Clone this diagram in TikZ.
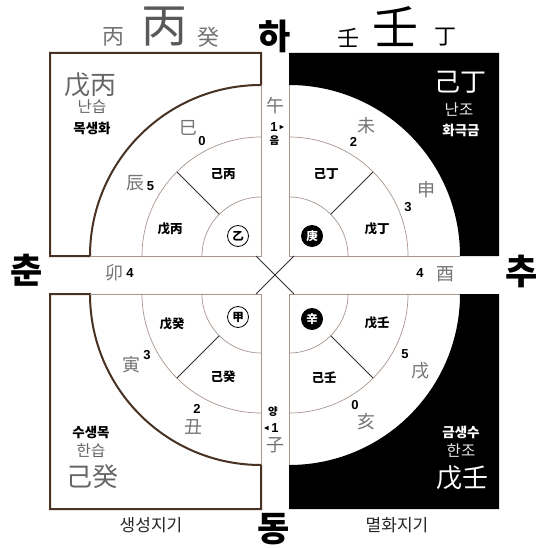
\documentclass[tikz,border=0pt]{standalone}
\usepackage{fontspec}
\setmainfont{Liberation Sans}
\newfontfamily\kr{Noto Sans CJK KR}
\usetikzlibrary{calc}
\definecolor{brownline}{RGB}{72,50,36}
\definecolor{thinc}{RGB}{168,150,142}
\definecolor{hanja}{RGB}{115,115,115}
\tikzset{
  every node/.style={inner sep=0pt, outer sep=0pt},
  thinline/.style={draw=thinc, line width=0.7pt},
  boxline/.style={draw=brownline, line width=2pt},
  spoke/.style={draw=black!80, line width=0.8pt},
  bigk/.style={font=\kr\bfseries\fontsize{35}{35}\selectfont},
  topbig/.style={font=\kr\fontsize{46}{46}\selectfont},
  topsmall/.style={font=\kr\fontsize{22}{22}\selectfont},
  ringh/.style={font=\kr\fontsize{18}{18}\selectfont, text=hanja},
  num/.style={font=\bfseries\fontsize{13}{13}\selectfont},
  midt/.style={font=\kr\bfseries\fontsize{12.5}{12.5}\selectfont},
  boxbig/.style={font=\kr\fontsize{26}{26}\selectfont},
  boxsub/.style={font=\kr\fontsize{15.5}{15.5}\selectfont},
  boxbold/.style={font=\kr\bfseries\fontsize{13.5}{13.5}\selectfont},
  foot/.style={font=\kr\fontsize{17}{17}\selectfont, text=black!85},
  yinyang/.style={font=\kr\bfseries\fontsize{10.5}{10.5}\selectfont},
  wcirc/.style={circle, draw=black, line width=0.8pt, fill=white, minimum size=21pt, font=\kr\bfseries\fontsize{11.5}{11.5}\selectfont},
  bcirc/.style={circle, fill=black, text=white, minimum size=22pt, font=\kr\bfseries\fontsize{11.5}{11.5}\selectfont},
}
\begin{document}
\begin{tikzpicture}[x=1pt,y=-1pt]
\useasboundingbox (0,0) rectangle (542,548);
\fill[white] (0,0) rectangle (542,548);
% quadrant corners
\coordinate (cTL) at (261,256);
\coordinate (cTR) at (289,256);
\coordinate (cBL) at (261,294);
\coordinate (cBR) at (289,294);
% outer boxes
\draw[boxline] (50,53) -- (50,256) -- (90,256) arc[start angle=180, end angle=270, radius=171] -- (261,53) -- cycle;
\fill[black] (289,53) -- (289,85) arc[start angle=270, end angle=360, radius=171] -- (499,256) -- (499,53) -- cycle;
\draw[boxline] (50,294) -- (90,294) arc[start angle=180, end angle=90, radius=171] -- (261,509) -- (50,509) -- cycle;
\fill[black] (289,509) -- (289,465) arc[start angle=90, end angle=0, radius=171] -- (499,294) -- (499,509) -- cycle;
% quadrant edges
\draw[thinline] (90,256) -- (cTL) -- (261,85);
\draw[thinline] (289,85) -- (cTR) -- (460,256);
\draw[thinline] (90,294) -- (cBL) -- (261,465);
\draw[thinline] (289,465) -- (cBR) -- (460,294);
% ring arcs
\draw[thinline] (142,256) arc[start angle=180, end angle=270, radius=119];
\draw[thinline] (202,256) arc[start angle=180, end angle=270, radius=59];
\draw[thinline] (289,137) arc[start angle=270, end angle=360, radius=119];
\draw[thinline] (289,197) arc[start angle=270, end angle=360, radius=59];
\draw[thinline] (142,294) arc[start angle=180, end angle=90, radius=119];
\draw[thinline] (202,294) arc[start angle=180, end angle=90, radius=59];
\draw[thinline] (289,413) arc[start angle=90, end angle=0, radius=119];
\draw[thinline] (289,353) arc[start angle=90, end angle=0, radius=59];
% spokes
\draw[spoke] ($(cTL)+(225:59)$) -- ($(cTL)+(225:119)$);
\draw[spoke] ($(cTR)+(315:59)$) -- ($(cTR)+(315:119)$);
\draw[spoke] ($(cBL)+(135:59)$) -- ($(cBL)+(135:119)$);
\draw[spoke] ($(cBR)+(45:59)$) -- ($(cBR)+(45:119)$);
% cross
\coordinate (x1) at (256,256); \coordinate (x2) at (294,294);
\coordinate (x3) at (294,256); \coordinate (x4) at (256,294);
\draw[spoke] (x1) -- (x2);
\draw[spoke] (x3) -- (x4);
% circles
\node[wcirc] (yi) at (238,236) {乙};
\node[bcirc] (gyeong) at (312,236) {庚};
\node[wcirc] (gap) at (238,317) {甲};
\node[bcirc] (sin) at (312,319) {辛};
% middle ring texts
\node[midt] (m1) at (223,174) {己丙};
\node[midt] (m2) at (170,229) {戊丙};
\node[midt] (m3) at (326,174) {己丁};
\node[midt] (m4) at (377,229) {戊丁};
\node[midt] (m5) at (172,324) {戊癸};
\node[midt] (m6) at (223,377) {己癸};
\node[midt] (m7) at (377,323) {戊壬};
\node[midt] (m8) at (324,378) {己壬};
% outer ring
\node[ringh] (sa) at (188,128) {巳};   \node[num] (n0a) at (202,141) {0};
\node[ringh] (jin) at (135,183) {辰};  \node[num] (n5a) at (150.5,186) {5};
\node[ringh] (myo) at (114,273) {卯};  \node[num] (n4a) at (130,273) {4};
\node[ringh] (mi) at (366,126) {未};   \node[num] (n2a) at (353.5,142) {2};
\node[ringh] (sinm) at (426,190) {申}; \node[num] (n3a) at (408,207) {3};
\node[ringh] (yu) at (445,274) {酉};   \node[num] (n4b) at (420,273) {4};
\node[ringh] (in) at (131,365) {寅};   \node[num] (n3b) at (147,355) {3};
\node[ringh] (chuk) at (193,427) {丑}; \node[num] (n2b) at (197,409) {2};
\node[ringh] (sul) at (420,371) {戌};  \node[num] (n5b) at (405,354) {5};
\node[ringh] (hae) at (366,422) {亥};  \node[num] (n0b) at (355,405) {0};
% center column
\node[ringh] (o) at (275,106) {午};
\node[num] (one1) at (274,127) {1};
\fill (279.5,124.8) -- (284,127) -- (279.5,129.2) -- cycle;
\node[yinyang] (eum) at (274.5,141) {음};
\node[yinyang] (yang) at (273,412) {양};
\node[num] (one2) at (275,428) {1};
\fill (268.5,425.8) -- (264,428) -- (268.5,430.2) -- cycle;
\node[ringh] (ja) at (275,445) {子};
% direction labels
\node[bigk] (ha) at (275,36) {하};
\node[bigk] (chun) at (27,270) {춘};
\node[bigk] (chu) at (522,271) {추};
\node[bigk] (dong) at (274,529) {동};
% top hanja
\node[topsmall, text=hanja] (bs) at (113,37) {丙};
\node[topbig, text=black!65] (bl) at (164,27) {丙};
\node[topsmall, text=hanja] (gs) at (208,37) {癸};
\node[topsmall] (is) at (348,38) {壬};
\node[topbig] (il) at (395,27) {壬};
\node[topsmall] (js) at (445,37) {丁};
% box texts
\node[boxbig, text=black!60] (tl1) at (90,85) {戊丙};
\node[boxsub, text=black!60] (tl2) at (92,107) {난습};
\node[boxbold] (tl3) at (92,128) {목생화};
\node[boxbig, text=white] (tr1) at (460,82) {己丁};
\node[boxsub, text=white!90!black] (tr2) at (459,110) {난조};
\node[boxbold, text=white] (tr3) at (461,130) {화극금};
\node[boxbold] (bl1) at (91,432) {수생목};
\node[boxsub, text=black!60] (bl2) at (91,451) {한습};
\node[boxbig, text=black!60] (bl3) at (92,477) {己癸};
\node[boxbold, text=white] (br1) at (461,432) {금생수};
\node[boxsub, text=white!90!black] (br2) at (461,451) {한조};
\node[boxbig, text=white] (br3) at (462,478) {戊壬};
% footer
\node[foot] (f1) at (151,525) {생성지기};
\node[foot] (f2) at (397,525) {멸화지기};
\end{tikzpicture}
\end{document}
